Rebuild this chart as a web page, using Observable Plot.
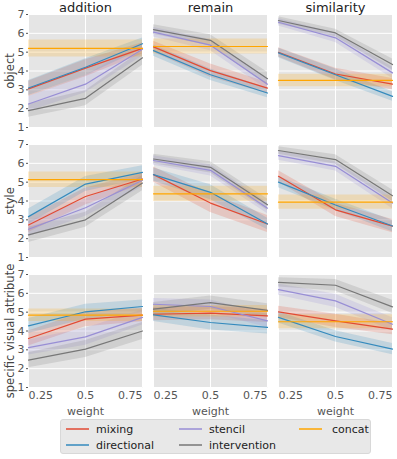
<!DOCTYPE html>
<html>
<head>
<meta charset="utf-8">
<script src="https://cdn.jsdelivr.net/npm/d3@7"></script>
<script src="https://cdn.jsdelivr.net/npm/@observablehq/plot@0.6"></script>
<style>
  html, body { margin: 0; padding: 0; background: white; }
  #wrap { position: relative; width: 397px; height: 459px; font-family: "DejaVu Sans", sans-serif; }
  #legend { position: absolute; left: 60px; top: 419px; width: 311px; height: 35px;
    background: #e8e8e8; border: 1px solid #d8d8d8; border-radius: 3px; box-sizing: border-box;
    font-size: 11px; color: #222; }
  .item { position: absolute; display: flex; align-items: center; height: 14px; }
  .sw { display: inline-block; width: 23px; height: 1.5px; margin-right: 7px; }
</style>
</head>
<body>
<div id="wrap"><div id="chart"></div><div id="legend"></div></div>
<script>
const rows = ["object", "style", "specific visual attribute"];
const cols = ["addition", "remain", "similarity"];
const weights = [0.25, 0.5, 0.75];
const yTicks = [1, 2, 3, 4, 5, 6, 7];
const methods = ["mixing", "directional", "stencil", "intervention", "concat"];
const colors = ["#E24A33", "#348ABD", "#988ED5", "#777777", "#FFA500"];

// panels in row-major order: object×(addition, remain, similarity), style×(...), specific×(...)
const mixing = [
  [3.05, 4.15, 5.2], [5.28, 4.02, 3.09], [4.99, 3.84, 3.3],
  [2.73, 4.24, 5.17], [5.4, 3.89, 2.78], [5.31, 3.53, 2.67],
  [3.6, 4.63, 4.84], [4.89, 4.95, 4.8], [5.02, 4.54, 4.1]
];
const directional = [
  [3.1, 4.2, 5.45], [5.08, 3.8, 2.83], [4.96, 3.8, 2.65],
  [3.17, 4.9, 5.52], [5.4, 4.46, 2.78], [5.0, 3.79, 2.67],
  [4.27, 5.02, 5.3], [4.86, 4.45, 4.19], [4.72, 3.71, 3.04]
];
const stencil = [
  [2.25, 3.3, 5.15], [6.06, 5.37, 3.3], [6.59, 5.76, 3.9],
  [2.5, 3.64, 5.1], [6.15, 5.63, 3.62], [6.41, 5.84, 3.89],
  [3.12, 3.69, 4.72], [5.42, 5.3, 4.54], [6.2, 5.6, 4.36]
];
const intervention = [
  [1.9, 2.55, 4.7], [6.2, 5.63, 3.59], [6.68, 6.02, 4.34],
  [2.2, 3.0, 4.95], [6.23, 5.79, 3.8], [6.68, 6.2, 4.28],
  [2.45, 3.04, 4.0], [5.16, 5.51, 5.1], [6.58, 6.43, 5.28]
];
const concat = [5.2, 5.3, 3.5, 5.13, 4.38, 3.94, 4.84, 5.05, 4.49];

// confidence half-widths
const mixingCI = [
  [0.4, 0.45, 0.3], [0.3, 0.35, 0.3], [0.25, 0.3, 0.3],
  [0.4, 0.45, 0.3], [0.4, 0.5, 0.45], [0.3, 0.35, 0.35],
  [0.4, 0.4, 0.35], [0.35, 0.35, 0.35], [0.3, 0.35, 0.3]
];
const directionalCI = [
  [0.4, 0.45, 0.3], [0.3, 0.3, 0.25], [0.25, 0.3, 0.25],
  [0.4, 0.4, 0.35], [0.35, 0.4, 0.3], [0.3, 0.3, 0.3],
  [0.4, 0.4, 0.35], [0.35, 0.4, 0.35], [0.3, 0.3, 0.3]
];
const stencilCI = [
  [0.4, 0.45, 0.35], [0.25, 0.3, 0.3], [0.2, 0.25, 0.3],
  [0.4, 0.45, 0.35], [0.25, 0.3, 0.3], [0.25, 0.25, 0.3],
  [0.4, 0.45, 0.4], [0.3, 0.35, 0.35], [0.3, 0.35, 0.35]
];
const interventionCI = [
  [0.35, 0.4, 0.4], [0.25, 0.3, 0.35], [0.2, 0.2, 0.3],
  [0.4, 0.4, 0.4], [0.25, 0.3, 0.3], [0.2, 0.25, 0.3],
  [0.4, 0.45, 0.45], [0.35, 0.35, 0.35], [0.25, 0.3, 0.35]
];
const concatCI = [0.45, 0.4, 0.33, 0.41, 0.4, 0.38, 0.33, 0.3, 0.37];

const seriesVals = { mixing, directional, stencil, intervention };
const seriesCI = { mixing: mixingCI, directional: directionalCI, stencil: stencilCI, intervention: interventionCI };

const table = [];
for (const m of methods) {
  for (let p = 0; p < 9; p++) {
    const row = rows[Math.floor(p / 3)], col = cols[p % 3];
    weights.forEach((w, i) => {
      const v = m === "concat" ? concat[p] : seriesVals[m][p][i];
      const c = m === "concat" ? concatCI[p] : seriesCI[m][p][i];
      table.push({ method: m, row, col, weight: w, value: v, lo: v - c, hi: v + c });
    });
  }
}

const fx = { domain: cols, padding: 0.087 };
const fy = { domain: rows, padding: 0.13 };
const fmt = d => String(d);

const chart = Plot.plot({
  width: 397,
  height: 418,
  marginLeft: 27,
  marginRight: 3,
  marginTop: 14,
  marginBottom: 30,
  style: { fontFamily: "DejaVu Sans, sans-serif", fontSize: "11px", color: "#555", background: "white", overflow: "visible" },
  fx, fy,
  x: { domain: [0.25, 0.75] },
  y: { domain: [1, 7] },
  color: { domain: methods, range: colors },
  marks: [
    Plot.frame({ fill: "#e5e5e5" }),
    Plot.gridY(yTicks, { stroke: "white", strokeOpacity: 1, strokeWidth: 1 }),
    Plot.gridX(weights, { stroke: "white", strokeOpacity: 1, strokeWidth: 1 }),
    Plot.areaY(table, { x: "weight", y1: "lo", y2: "hi", fill: "method", fillOpacity: 0.2, fx: "col", fy: "row", z: "method" }),
    Plot.line(table, { x: "weight", y: "value", stroke: "method", strokeWidth: 1.2, fx: "col", fy: "row", z: "method" }),
    Plot.axisY(yTicks, { tickSize: 2, tickPadding: 2, fontSize: 11, label: null, stroke: "#555" }),
    Plot.axisX([0.25], { tickSize: 0, tickPadding: 4, fontSize: 11, label: null, textAnchor: "start", tickFormat: fmt }),
    Plot.axisX([0.5], { tickSize: 0, tickPadding: 4, fontSize: 11, label: null, tickFormat: fmt }),
    Plot.axisX([0.75], { tickSize: 0, tickPadding: 4, fontSize: 11, label: null, textAnchor: "end", tickFormat: fmt }),
    Plot.axisFx({ anchor: "top", tickSize: 0, tickPadding: 3, fontSize: 13, label: null, fill: "#222" }),
    Plot.axisFy({ anchor: "left", tickSize: 0, tickPadding: 18, fontSize: 11.5, label: null, rotate: -90, textAnchor: "middle", fill: "#444" }),
    Plot.text(cols, { fx: d => d, fy: () => rows[2], text: () => "weight", frameAnchor: "bottom", dy: 27, fontSize: 11, fill: "#555" })
  ]
});
document.getElementById("chart").appendChild(chart);

// legend
const legend = document.getElementById("legend");
const pos = [
  { m: "mixing", left: 5, top: 2 }, { m: "directional", left: 5, top: 18 },
  { m: "stencil", left: 118, top: 2 }, { m: "intervention", left: 118, top: 18 },
  { m: "concat", left: 238, top: 2 }
];
for (const p of pos) {
  const d = document.createElement("div");
  d.className = "item";
  d.style.left = p.left + "px";
  d.style.top = p.top + "px";
  const sw = document.createElement("span");
  sw.className = "sw";
  sw.style.background = colors[methods.indexOf(p.m)];
  sw.style.opacity = 0.75;
  if (p.m === "concat") sw.style.marginRight = "10px";
  d.appendChild(sw);
  d.appendChild(document.createTextNode(p.m));
  legend.appendChild(d);
}
</script>
</body>
</html>
